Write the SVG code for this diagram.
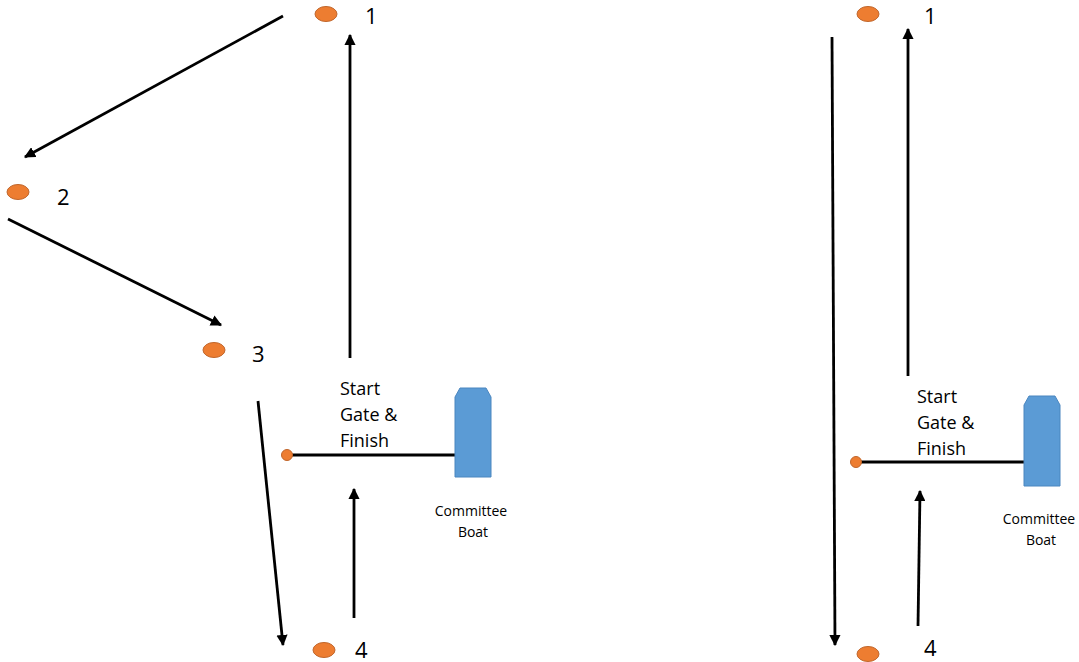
<svg xmlns="http://www.w3.org/2000/svg" width="1079" height="662" viewBox="0 0 1079 662">
<style>
.mark{fill:#ED7D31;stroke:#C0652A;stroke-width:1}
.boat{fill:#5B9BD5;stroke:#4A86BF;stroke-width:1}
.num{font-family:"Open Sans","Liberation Sans",sans-serif;font-size:22px;fill:#000}
.lbl{font-family:"Open Sans","Liberation Sans",sans-serif;font-size:18px;fill:#000}
.small{font-family:"Open Sans","Liberation Sans",sans-serif;font-size:14px;fill:#000;text-anchor:middle}
.arr{stroke:#000;stroke-width:2.8;fill:none;marker-end:url(#ah)}
.gate{stroke:#000;stroke-width:3;fill:none}
</style>
<defs>
<marker id="ah" viewBox="0 0 10 10" refX="9" refY="5" markerWidth="4" markerHeight="4" orient="auto" markerUnits="strokeWidth">
<path d="M0,0 L10,5 L0,10 z" fill="#000"/>
</marker>
</defs>
<rect width="1079" height="662" fill="#fff"/>
<g id="connectors">
<line class="arr" x1="283" y1="16" x2="25" y2="157"/>
<line class="arr" x1="8" y1="219" x2="221" y2="325"/>
<line class="arr" x1="258" y1="401" x2="283" y2="645"/>
<line class="arr" x1="350" y1="358" x2="350" y2="35"/>
<line class="arr" x1="354" y1="618" x2="354" y2="489"/>
<line class="gate" x1="290" y1="455" x2="456" y2="455"/>
<line class="arr" x1="832" y1="37" x2="835" y2="645"/>
<line class="arr" x1="908" y1="376" x2="908" y2="29"/>
<line class="arr" x1="918" y1="626" x2="920" y2="491"/>
<line class="gate" x1="859" y1="462" x2="1025" y2="462"/>
</g>
<g id="mark1-left"><ellipse class="mark" cx="326" cy="14" rx="11" ry="7.5"/><text class="num" x="365" y="24">1</text></g>
<g id="mark2-left"><ellipse class="mark" cx="18" cy="192" rx="11" ry="7.5"/><text class="num" x="57" y="205">2</text></g>
<g id="mark3-left"><ellipse class="mark" cx="214" cy="350" rx="11" ry="7.5"/><text class="num" x="252" y="362">3</text></g>
<g id="mark4-left"><ellipse class="mark" cx="324" cy="650" rx="11" ry="7.5"/><text class="num" x="355" y="658">4</text></g>
<g id="pin-left"><circle class="mark" cx="287" cy="455" r="5.5"/></g>
<g id="gate-label-left"><text class="lbl" x="340" y="395">Start</text><text class="lbl" x="340" y="421">Gate &amp;</text><text class="lbl" x="340" y="447">Finish</text></g>
<g id="boat-left"><path class="boat" d="M455,397 L460,388 L486,388 L491,397 L491,477 L455,477 Z"/><text class="small" x="471" y="516">Committee</text><text class="small" x="473" y="537">Boat</text></g>
<g id="mark1-right"><ellipse class="mark" cx="868" cy="14" rx="11" ry="7.5"/><text class="num" x="924" y="24">1</text></g>
<g id="mark4-right"><ellipse class="mark" cx="868" cy="654" rx="11" ry="7.5"/><text class="num" x="924" y="656">4</text></g>
<g id="pin-right"><circle class="mark" cx="856" cy="462" r="5.5"/></g>
<g id="gate-label-right"><text class="lbl" x="917" y="403">Start</text><text class="lbl" x="917" y="429">Gate &amp;</text><text class="lbl" x="917" y="455">Finish</text></g>
<g id="boat-right"><path class="boat" d="M1024,405 L1029,396 L1055,396 L1060,405 L1060,486 L1024,486 Z"/><text class="small" x="1039" y="524">Committee</text><text class="small" x="1041" y="545">Boat</text></g>
</svg>
